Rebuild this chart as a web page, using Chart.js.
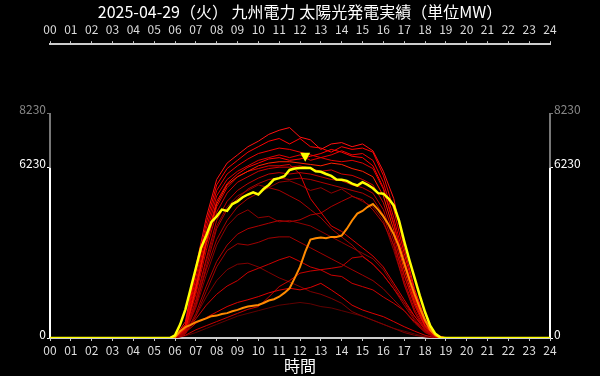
<!DOCTYPE html>
<html>
<head>
<meta charset="utf-8">
<script src="https://cdn.jsdelivr.net/npm/chart.js@4.4.0/dist/chart.umd.min.js"></script>
<style>
  html, body { margin: 0; padding: 0; background: #000; }
  #wrap { width: 600px; height: 376px; }
</style>
</head>
<body>
<div id="wrap"><canvas id="solarChart" width="600" height="376"></canvas></div>
<script>
const titleText = "2025-04-29（火） 九州電力 太陽光発電実績（単位MW）";
const xTitle = "時間";
const yTickValues = [0, 6230, 8230];
const yMax = 10750;

// 15 min grid for today (yellow) and the orange day
const quarterHours = [0, 5.75,
  6, 6.25, 6.5, 6.75, 7, 7.25, 7.5, 7.75, 8, 8.25, 8.5, 8.75,
  9, 9.25, 9.5, 9.75, 10, 10.25, 10.5, 10.75, 11, 11.25, 11.5, 11.75,
  12, 12.25, 12.5, 12.75, 13, 13.25, 13.5, 13.75, 14, 14.25, 14.5, 14.75,
  15, 15.25, 15.5, 15.75, 16, 16.25, 16.5, 16.75, 17, 17.25, 17.5, 17.75,
  18, 18.25, 18.5, 18.75, 19, 24];

const todayValues = [0, 0,
  100, 500, 1050, 1800, 2550, 3300, 3750, 4250, 4450, 4700, 4650, 4900,
  5000, 5150, 5250, 5330, 5250, 5450, 5600, 5800, 5850, 5920, 6150, 6200,
  6220, 6230, 6220, 6100, 6080, 6000, 5930, 5800, 5790, 5750, 5650, 5580,
  5700, 5600, 5480, 5300, 5280, 5100, 4850, 4300, 3550, 2850, 2200, 1550,
  950, 450, 150, 20, 0, 0];

const orangeValues = [0, 0,
  30, 250, 400, 480, 580, 650, 720, 800, 820, 880, 910, 980,
  1030, 1100, 1150, 1180, 1210, 1280, 1370, 1420, 1510, 1650, 1820, 2200,
  2600, 3150, 3600, 3650, 3680, 3650, 3700, 3700, 3750, 4000, 4300, 4550,
  4650, 4800, 4900, 4700, 4450, 4150, 3800, 3350, 2750, 2150, 1600, 1100,
  650, 300, 100, 0, 0, 0];

// 30 min grid for the past days (red)
const halfHours = [0, 5.5, 6, 6.5, 7, 7.5, 8, 8.5, 9, 9.5, 10, 10.5, 11, 11.5,
  12, 12.5, 13, 13.5, 14, 14.5, 15, 15.5, 16, 16.5, 17, 17.5, 18, 18.5, 19, 24];

const r01 = [0,0,30,600,2600,4400,5800,6400,6700,7000,7200,7450,7600,7700,7350,7250,6900,7100,7150,7000,7100,6850,6100,5100,3300,1800,700,120,0,0];
const r02 = [0,0,20,500,2400,4200,5600,6200,6500,6800,7000,7200,7300,7100,7300,7000,6950,6800,7000,6900,6950,6800,5950,4700,3100,1700,650,100,0,0];
const r03 = [0,0,20,450,2200,4000,5400,6000,6300,6550,6750,6850,6950,6900,6800,6700,6600,6700,6850,6700,6750,6500,5700,4400,2900,1550,580,80,0,0];
const r04 = [0,0,15,400,2000,3800,5200,5800,6100,6300,6500,6600,6700,6600,6700,6500,6600,6500,6450,6500,6400,6200,5450,4150,2700,1450,500,60,0,0];
const r05 = [0,0,10,350,1800,3500,4900,5600,5900,6100,6300,6400,6450,6450,6400,6350,6300,6400,6350,6200,6100,5900,5200,3950,2500,1300,450,50,0,0];
const r06 = [0,0,10,300,1600,3200,4600,5300,5700,5900,6100,6200,6250,6250,6300,6200,6100,6150,6000,5950,5800,5600,4950,3750,2300,1200,400,40,0,0];
const r07 = [0,0,5,250,1400,2900,4300,5000,5400,5650,5850,6000,6050,6000,6050,6000,5900,5800,5750,5600,5500,5300,4700,3550,2100,1050,330,30,0,0];
const r08 = [0,0,5,200,1200,2600,4000,4700,5100,5450,5650,5800,5850,5800,5850,5800,5700,5600,5500,5400,5300,5100,4500,3350,1950,950,280,20,0,0];
const r09 = [0,0,10,300,1700,3400,4800,5500,5900,6100,6200,6300,6300,6350,6000,5100,4600,4100,3900,3600,3300,3000,2600,2000,1400,800,300,30,0,0];
const r10 = [0,0,5,200,1100,2300,3400,4100,4500,4690,4400,4450,4250,4300,4200,4100,3900,3700,3500,3300,3100,2900,2500,1900,1300,700,250,20,0,0];
const r11 = [0,0,5,150,800,1700,2600,3200,3450,3400,3500,3650,3700,3700,3500,3300,3100,2900,2700,2500,2300,2100,1800,1400,1000,550,200,15,0,0];
const r12 = [0,0,5,200,700,1200,1600,1900,2100,2400,2550,2700,2860,2980,2800,2600,2490,2300,2250,2000,1880,1760,1500,1270,1000,600,250,20,0,0];
const r13 = [0,0,5,200,540,750,950,1150,1300,1400,1514,1650,1750,1822,1760,1850,2000,1760,1500,1200,1026,900,781,600,414,250,100,10,0,0];
const r14 = [0,0,0,100,300,450,600,750,900,1050,1150,1500,1880,2100,2371,2450,2500,2550,2613,2930,2980,2700,2300,1800,1300,800,350,30,0,0];
const r15 = [0,0,5,150,900,1900,2800,3400,3800,4000,4100,4200,4300,4250,4325,4500,4570,4810,5000,5180,5058,4690,4200,3400,2300,1200,400,30,0,0];
const r16 = [0,0,5,200,800,1500,2100,2500,2700,2738,2600,2400,2200,2050,1880,1700,1600,1450,1270,965,800,650,500,350,200,100,40,0,0,0];
const r17 = [0,0,5,200,1200,2500,3600,4300,4800,5100,5300,5500,5400,5200,5000,4700,4400,4000,3700,3400,3000,2700,2300,1800,1200,650,220,20,0,0];
const r18 = [0,0,0,80,200,350,500,650,800,900,1000,1100,1200,1250,1300,1250,1150,1100,1000,900,800,650,500,350,250,150,50,0,0,0];
const r19 = [0,0,5,250,1300,2800,4100,4800,5200,5400,5600,5500,5700,5750,5600,5400,5500,5300,5450,5200,5000,4800,4300,3200,2000,950,300,25,0,0];
const r20 = [0,0,10,350,1900,3600,5000,5650,6000,6250,6400,6550,6600,6500,6550,6650,6750,6900,6800,6650,6600,6300,5500,4200,2700,1400,480,50,0,0];

const redSeries = [r01, r02, r03, r04, r05, r06, r07, r08, r09, r10,
  r11, r12, r13, r14, r15, r16, r17, r18, r19, r20];
const redColors = ['#ff1010', '#ff0000', '#f00000', '#e00000', '#ff2000',
  '#d00000', '#c00000', '#b00000', '#e00000', '#900000',
  '#a00000', '#cc0000', '#dd0000', '#c80000', '#b00000',
  '#800000', '#a80000', '#600000', '#900000', '#ff0000'];

const fontFamily = "'Noto Sans CJK JP', 'Noto Sans', sans-serif";

function toPoints(times, values) {
  return times.map((h, i) => ({ x: h, y: values[i] }));
}

// y axis line: white up to today's max, grey above
const splitAxis = {
  id: 'splitAxis',
  beforeDatasetsDraw(chart) {
    const ctx = chart.ctx;
    ['y', 'y2'].forEach(id => {
      const s = chart.scales[id];
      const x = id === 'y' ? s.right : s.left;
      const p0 = s.getPixelForValue(yTickValues[0]);
      const p1 = s.getPixelForValue(yTickValues[1]);
      const p2 = s.getPixelForValue(yTickValues[2]);
      ctx.save();
      ctx.lineWidth = 2;
      ctx.strokeStyle = '#777';
      ctx.beginPath(); ctx.moveTo(x, p1); ctx.lineTo(x, p2); ctx.stroke();
      ctx.strokeStyle = '#fff';
      ctx.beginPath(); ctx.moveTo(x, p0); ctx.lineTo(x, p1); ctx.stroke();
      ctx.restore();
    });
  }
};

// triangle over today's peak
const peakMarker = {
  id: 'peakMarker',
  afterDatasetsDraw(chart) {
    const ctx = chart.ctx;
    const i = todayValues.indexOf(Math.max(...todayValues));
    const px = chart.scales.x.getPixelForValue(quarterHours[i]);
    const py = chart.scales.y.getPixelForValue(todayValues[i]);
    ctx.save();
    ctx.fillStyle = '#ffff00';
    ctx.beginPath();
    ctx.moveTo(px - 5, py - 15);
    ctx.lineTo(px + 5, py - 15);
    ctx.lineTo(px, py - 6);
    ctx.closePath();
    ctx.fill();
    ctx.restore();
  }
};

const datasets = [
  { data: toPoints(quarterHours, todayValues), borderColor: '#ffff00', borderWidth: 2.5 },
  { data: toPoints(quarterHours, orangeValues), borderColor: '#ff8a00', borderWidth: 2 },
  ...redSeries.map((vals, k) => ({
    data: toPoints(halfHours, vals),
    borderColor: redColors[k],
    borderWidth: 1
  }))
];

function hourTicks(pad) {
  return {
    stepSize: 1,
    color: '#ddd',
    maxRotation: 0,
    autoSkip: false,
    padding: pad,
    font: { size: 12, family: fontFamily },
    callback: v => String(v).padStart(2, '0')
  };
}

const yTicks = {
  color: ctx => ctx.tick.value === yTickValues[2] ? '#888' : '#fff',
  padding: 1,
  labelOffset: -4,
  font: { size: 12, family: fontFamily },
  callback: v => String(v)
};

new Chart(document.getElementById('solarChart'), {
  type: 'line',
  data: { datasets: datasets },
  options: {
    responsive: false,
    animation: false,
    layout: { padding: 0 },
    elements: { point: { radius: 0 }, line: { tension: 0 } },
    plugins: {
      legend: { display: false },
      tooltip: { enabled: false },
      title: {
        display: true,
        text: titleText,
        color: '#fff',
        font: { size: 16, family: fontFamily, weight: 'normal' },
        padding: { top: 2, bottom: 4 }
      }
    },
    scales: {
      x: {
        type: 'linear', position: 'bottom', min: 0, max: 24,
        ticks: hourTicks(2),
        grid: { drawOnChartArea: false, tickLength: 3, tickColor: '#ccc' },
        border: { color: '#ccc', width: 2 },
        title: { display: true, text: xTitle, color: '#fff', padding: 0,
                 font: { size: 16, family: fontFamily } },
        afterFit: s => { s.height = 38; }
      },
      x2: {
        type: 'linear', position: 'top', min: 0, max: 24,
        ticks: hourTicks(5),
        grid: { drawOnChartArea: false, tickLength: 3, tickColor: '#ccc' },
        border: { color: '#ccc', width: 2 },
        afterFit: s => { s.height = 19; }
      },
      y: {
        type: 'linear', position: 'left', min: 0, max: yMax,
        afterBuildTicks: s => { s.ticks = yTickValues.map(v => ({ value: v })); },
        ticks: yTicks,
        grid: { drawOnChartArea: false, tickLength: 3,
                tickColor: ctx => ctx.tick.value === yTickValues[2] ? '#777' : '#fff' },
        border: { display: false },
        afterFit: s => { s.width = 50; }
      },
      y2: {
        type: 'linear', position: 'right', min: 0, max: yMax,
        afterBuildTicks: s => { s.ticks = yTickValues.map(v => ({ value: v })); },
        ticks: yTicks,
        grid: { drawOnChartArea: false, tickLength: 3,
                tickColor: ctx => ctx.tick.value === yTickValues[2] ? '#777' : '#fff' },
        border: { display: false },
        afterFit: s => { s.width = 50; }
      }
    }
  },
  plugins: [splitAxis, peakMarker]
});
</script>
</body>
</html>
